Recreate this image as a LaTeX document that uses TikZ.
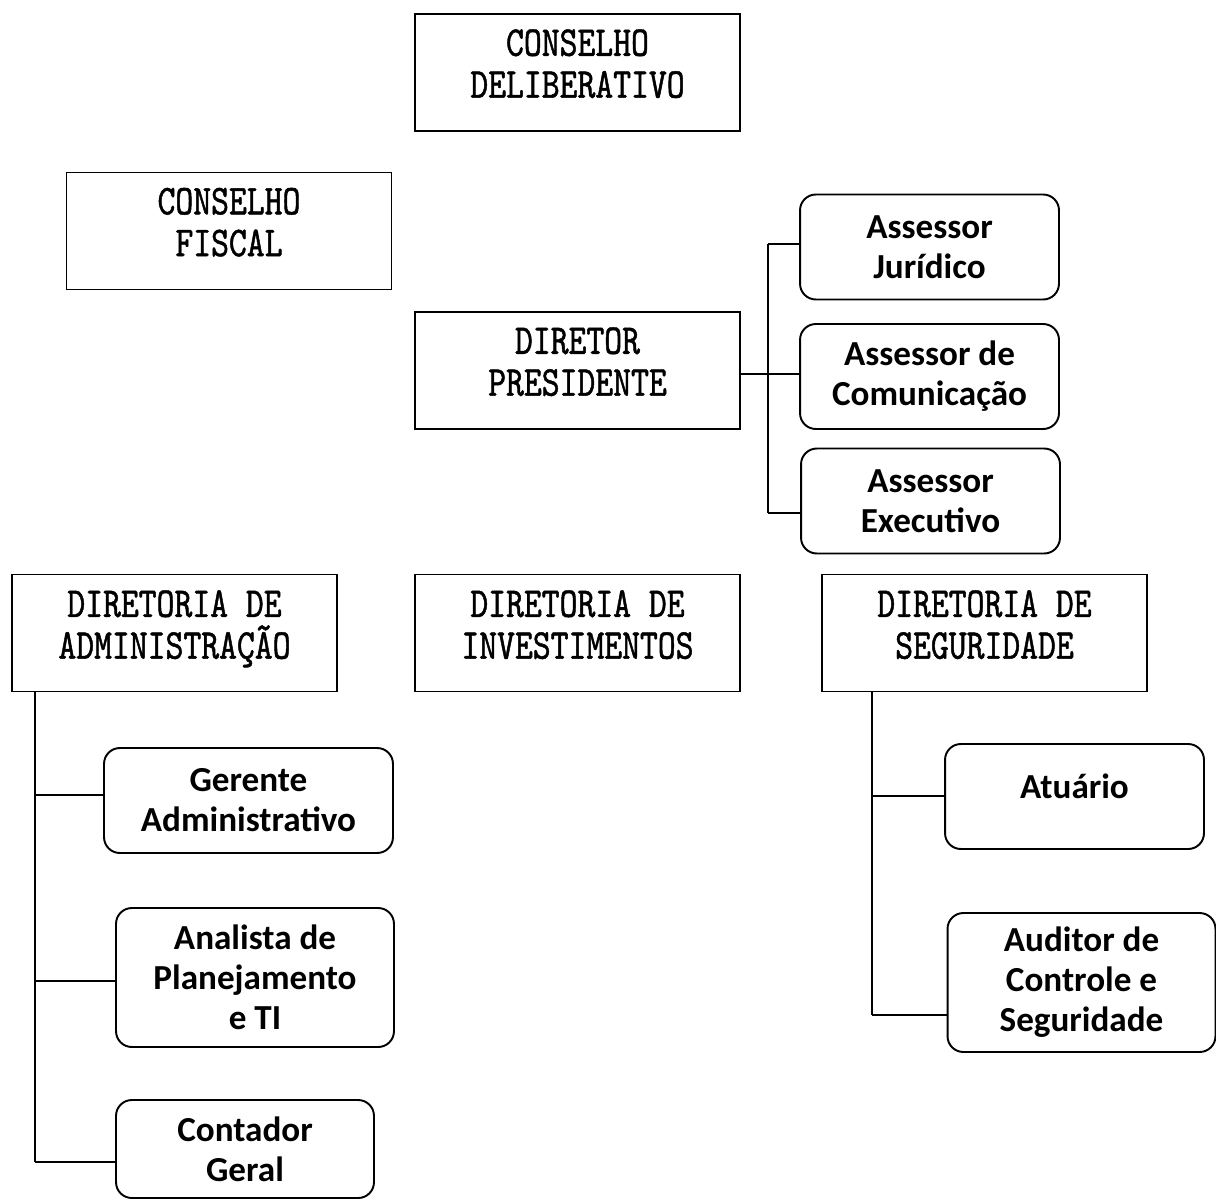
\documentclass[tikz,border=0pt]{standalone}
\usepackage{fontspec}
\newfontfamily\monofont[FakeStretch=0.8,FakeBold=1.1]{lmmono10-regular.otf}
\newfontfamily\boxsans{Carlito}
\newcommand\dropstrut[1]{\rule[-#1]{0pt}{0pt}}
\tikzset{
  sq/.style={draw, line width=1.1pt, inner sep=0pt, align=center,
    minimum width=6.5cm, minimum height=2.34cm,
    font=\monofont\fontsize{24.2}{23.8}\selectfont},
  rbox/.style={draw, line width=1.1pt, rounded corners=9pt, inner sep=0pt, align=center,
    minimum width=5.18cm, minimum height=2.1cm,
    font=\boxsans\bfseries\fontsize{20}{22.7}\selectfont},
  conn/.style={line width=1.1pt}
}
\begin{document}
\begin{tikzpicture}[x=0.02cm, y=-0.02cm]
\useasboundingbox (0,0) rectangle (1216,1200);
% square boxes
\node[sq] (CD) at (577.5,72.5) {CONSELHO\\DELIBERATIVO\dropstrut{0.36cm}};
\node[sq] (CF) at (229,231) {CONSELHO\\FISCAL\dropstrut{0.36cm}};
\node[sq] (DP) at (577.5,370.5) {DIRETOR\\PRESIDENTE\dropstrut{0.36cm}};
\node[sq] (DA) at (174.5,633) {DIRETORIA DE\\ADMINISTRAÇÃO\dropstrut{0.34cm}};
\node[sq] (DI) at (577.5,633) {DIRETORIA DE\\INVESTIMENTOS\dropstrut{0.34cm}};
\node[sq] (DS) at (984.5,633) {DIRETORIA DE\\SEGURIDADE\dropstrut{0.34cm}};
% rounded boxes
\node[rbox] (AJ) at (929.5,247) {Assessor\\Jurídico};
\node[rbox] (AC) at (929.5,376.5) {Assessor de\\Comunicação};
\node[rbox] (AE) at (930.5,501) {Assessor\\Executivo};
\node[rbox, minimum width=5.78cm] (GA) at (248.5,800.5) {Gerente\\Administrativo};
\node[rbox, minimum width=5.56cm, minimum height=2.78cm] (AP) at (255,977.5) {Analista de\\Planejamento\\e TI};
\node[rbox, minimum width=5.16cm, minimum height=1.96cm] (CG) at (245,1149) {Contador\\Geral};
\node[rbox] (AT) at (1074.5,796.5) {Atuário\dropstrut{0.4cm}};
\node[rbox, minimum width=5.36cm, minimum height=2.78cm] (AU) at (1081.5,982.5) {Auditor de\\Controle e\\Seguridade};
% Diretor Presidente connectors
\coordinate (pj) at (768,374);
\coordinate (pjA) at (768,244);
\coordinate (pjE) at (768,513);
\draw[conn] (pj -| DP.east) -- (pj);
\draw[conn] (pjA) -- (pjE);
\draw[conn] (pjA) -- (pjA -| AJ.west);
\draw[conn] (pj) -- (pj -| AC.west);
\draw[conn] (pjE) -- (pjE -| AE.west);
% Administração connectors
\coordinate (a0) at (35,692);
\coordinate (a1) at (35,795);
\coordinate (a2) at (35,981);
\coordinate (a3) at (35,1162);
\draw[conn] (a0) -- (a3);
\draw[conn] (a1) -- (a1 -| GA.west);
\draw[conn] (a2) -- (a2 -| AP.west);
\draw[conn] (a3) -- (a3 -| CG.west);
% Seguridade connectors
\coordinate (s0) at (872,692);
\coordinate (s1) at (872,796);
\coordinate (s2) at (872,1015);
\draw[conn] (s0) -- (s2);
\draw[conn] (s1) -- (s1 -| AT.west);
\draw[conn] (s2) -- (s2 -| AU.west);
\end{tikzpicture}
\end{document}
